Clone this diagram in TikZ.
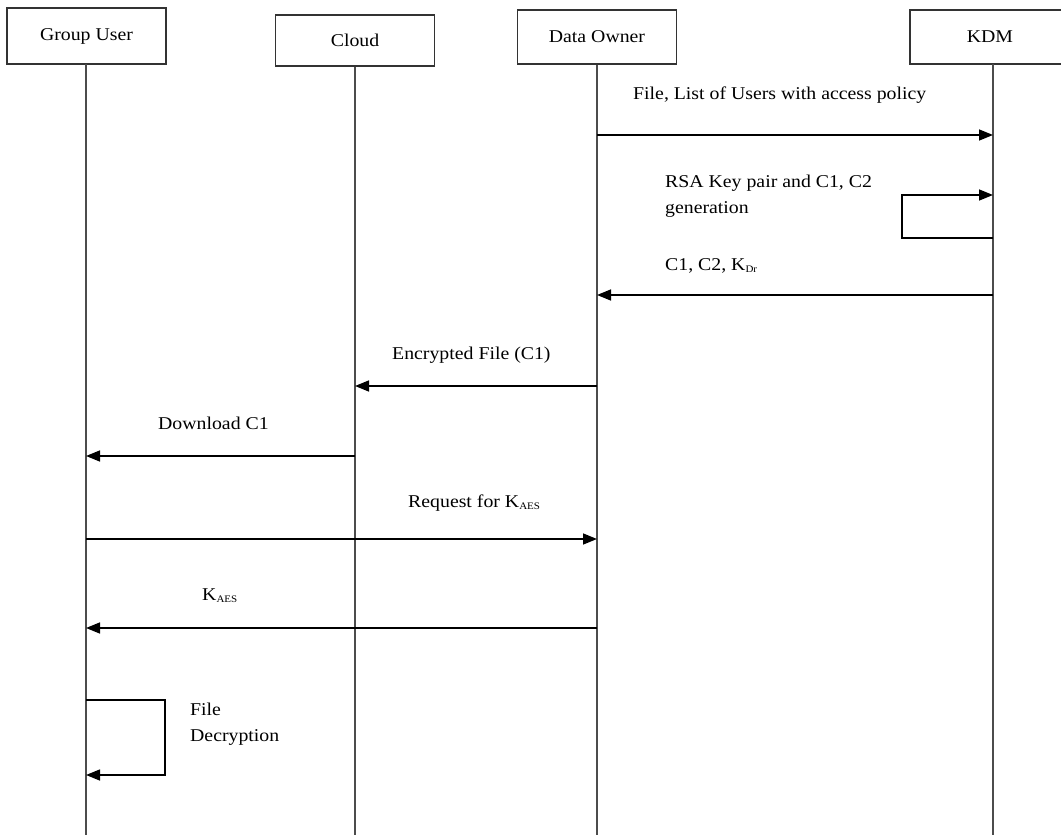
\documentclass[tikz,border=0pt]{standalone}
\usepackage{fontspec}
\setmainfont[FakeStretch=1.1]{Liberation Serif}
\usetikzlibrary{arrows.meta}
\newcommand{\smallsub}[1]{\raisebox{-0.25ex}{\fontsize{10}{10}\selectfont #1}}
\begin{document}
\begin{tikzpicture}[x=1pt,y=-1pt,
  actor/.style={draw=black!80,line width=1.4pt,minimum width=159pt,inner sep=0pt,font=\fontsize{18}{21}\selectfont},
  life/.style={draw=black!70,line width=1.6pt},
  msg/.style={draw=black,line width=1.5pt,-{Triangle[length=14pt,width=11pt]}},
  lbl/.style={anchor=west,inner sep=0pt,align=left,font=\fontsize{18}{26}\selectfont}]
\useasboundingbox[fill=white] (0,0) rectangle (1061,837);
% actors
\node[actor,minimum height=56pt] (gu) at (86.5,36) {Group User};
\node[actor,minimum height=51pt] (cl) at (355,40.5) {Cloud};
\node[actor,minimum height=54pt] (do) at (597,37) {Data Owner};
\node[actor,minimum height=54pt,minimum width=160pt] (kdm) at (990,37) {KDM};
% lifeline ends
\coordinate (guE) at (86,835);
\coordinate (clE) at (355,835);
\coordinate (doE) at (597,835);
\coordinate (kdE) at (993,835);
\coordinate (guT) at (86,64);
\coordinate (kdT) at (993,64);
\draw[life] (guT) -- (guE);
\draw[life] (cl.south) -- (clE);
\draw[life] (do.south) -- (doE);
\draw[life] (kdT) -- (kdE);
% message 1
\coordinate (m1a) at (597,135); \coordinate (m1b) at (993,135);
\draw[msg] (m1a) -- (m1b);
\node[lbl] (l1) at (633,95) {File, List of Users with access policy};
% self loop KDM
\coordinate (s1a) at (993,238); \coordinate (s1b) at (902,238);
\coordinate (s1c) at (902,195); \coordinate (s1d) at (993,195);
\draw[msg] (s1a) -- (s1b) -- (s1c) -- (s1d);
\node[lbl] (l2) at (665,196) {RSA Key pair and C1, C2\\generation};
% message 3
\coordinate (m3a) at (993,295); \coordinate (m3b) at (597,295);
\draw[msg] (m3a) -- (m3b);
\node[lbl] (l3) at (665,266) {C1, C2, K\smallsub{Dr}};
% message 4
\coordinate (m4a) at (597,386); \coordinate (m4b) at (355,386);
\draw[msg] (m4a) -- (m4b);
\node[lbl] (l4) at (392,355) {Encrypted File (C1)};
% message 5
\coordinate (m5a) at (355,456); \coordinate (m5b) at (86,456);
\draw[msg] (m5a) -- (m5b);
\node[lbl] (l5) at (158,423) {Download C1};
% message 6
\coordinate (m6a) at (86,539); \coordinate (m6b) at (597,539);
\draw[msg] (m6a) -- (m6b);
\node[lbl] (l6) at (408,503) {Request for K\smallsub{AES}};
% message 7
\coordinate (m7a) at (597,628); \coordinate (m7b) at (86,628);
\draw[msg] (m7a) -- (m7b);
\node[lbl] (l7) at (202,596) {K\smallsub{AES}};
% self loop GU
\coordinate (s2a) at (86,700); \coordinate (s2b) at (165,700);
\coordinate (s2c) at (165,775); \coordinate (s2d) at (86,775);
\draw[msg] (s2a) -- (s2b) -- (s2c) -- (s2d);
\node[lbl] (l8) at (190,724) {File\\Decryption};
\end{tikzpicture}
\end{document}
